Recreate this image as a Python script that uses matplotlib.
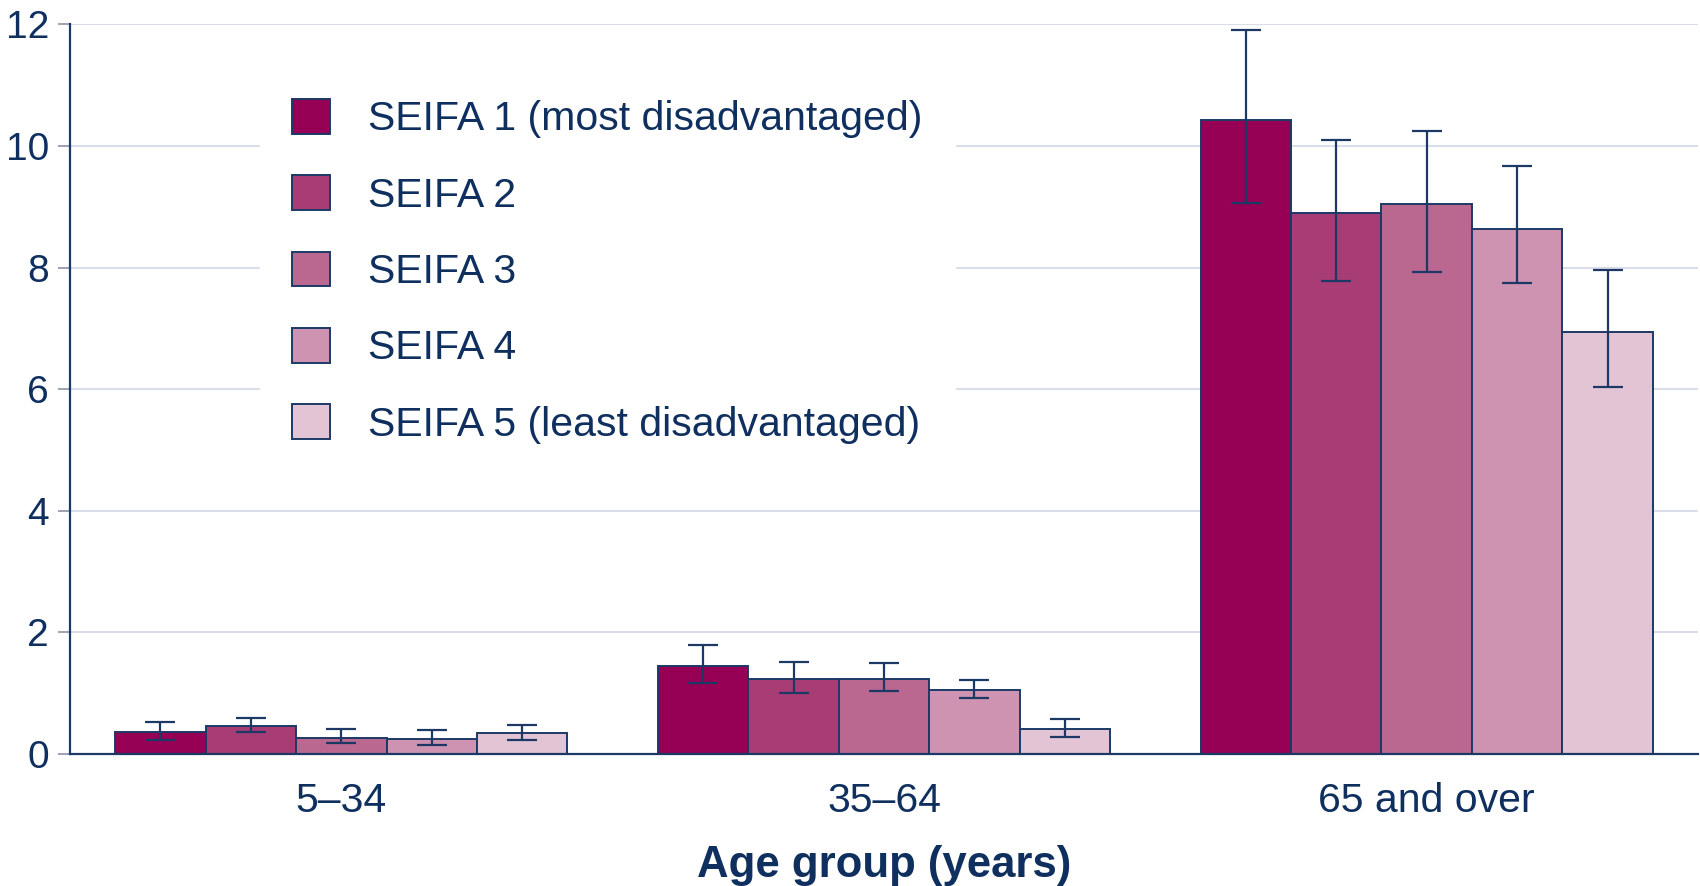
"""Hospitalisation rate by age group and SEIFA quintile — grouped bars with error bars."""

import matplotlib.pyplot as plt
import matplotlib.patches as mpatches
import numpy as np

plt.rcParams['font.family'] = ['Liberation Sans', 'DejaVu Sans']

NAVY = '#0f2f5f'
EDGE = '#1c3966'
GRID = '#dadeeb'

age_groups = ['5–34', '35–64', '65 and over']
series     = ['SEIFA 1 (most disadvantaged)', 'SEIFA 2', 'SEIFA 3', 'SEIFA 4',
              'SEIFA 5 (least disadvantaged)']
colors     = ['#960055', '#a83d75', '#ba6890', '#ce93b0', '#e3c4d5']

# rate per series, one value per age group
values = [
    [0.36, 1.44, 10.42],
    [0.46, 1.23, 8.89],
    [0.27, 1.23, 9.04],
    [0.25, 1.06, 8.64],
    [0.34, 0.41, 6.94],
]
ci_low = [
    [0.23, 1.16, 9.06],
    [0.36, 1.00, 7.78],
    [0.18, 1.03, 7.93],
    [0.14, 0.92, 7.74],
    [0.23, 0.28, 6.03],
]
ci_high = [
    [0.53, 1.79, 11.91],
    [0.60, 1.51, 10.10],
    [0.41, 1.50, 10.25],
    [0.40, 1.21, 9.67],
    [0.48, 0.57, 7.96],
]

fig = plt.figure(figsize=(17, 8.86), dpi=100, facecolor='white')
ax  = fig.add_axes([0.0412, 0.149, 0.9576, 0.8236])

x = np.arange(len(age_groups))
w = 1 / 6
for i, (name, col) in enumerate(zip(series, colors)):
    v   = np.array(values[i])
    err = np.vstack([v - np.array(ci_low[i]), np.array(ci_high[i]) - v])
    xs  = x + (i - 2) * w
    ax.bar(xs, v, width=w, color=col, edgecolor=EDGE, linewidth=1.4, zorder=2)
    ax.errorbar(xs, v, yerr=err, fmt='none', ecolor=EDGE, elinewidth=1.6,
                capsize=10.8, capthick=1.6, zorder=3)

ax.set_xlim(-0.5, 2.5)
ax.set_ylim(0, 12)
ax.set_yticks(range(0, 13, 2))
ax.set_xticks(x)
ax.set_xticklabels(age_groups)
ax.tick_params(axis='x', length=0, pad=20, labelsize=29.5, labelcolor=NAVY)
ax.tick_params(axis='y', length=9, width=1.2, color='#8a93a6', pad=6,
               labelsize=28, labelcolor=NAVY)
ax.grid(True, axis='y', color=GRID, linewidth=1.5, zorder=0)
ax.set_axisbelow(True)
for s in ('top', 'right'):
    ax.spines[s].set_visible(False)
for s in ('left', 'bottom'):
    ax.spines[s].set_color(EDGE)
    ax.spines[s].set_linewidth(1.6)

ax.set_xlabel('Age group (years)', fontsize=31.5, fontweight='bold', color=NAVY, labelpad=18)

handles = [mpatches.Patch(facecolor=c, edgecolor=EDGE, linewidth=1.4, label=n)
           for n, c in zip(series, colors)]
leg = ax.legend(handles=handles, loc='upper left', bbox_to_anchor=(0.1167, 0.9417),
                fontsize=29.5, frameon=True, framealpha=1, facecolor='white',
                edgecolor='white', fancybox=False, borderpad=0.78,
                handlelength=0.93, handleheight=0.93, handletextpad=0.93,
                labelspacing=0.9, borderaxespad=0)
for t in leg.get_texts():
    t.set_color(NAVY)

fig.savefig('out.png', dpi=100, facecolor='white')
